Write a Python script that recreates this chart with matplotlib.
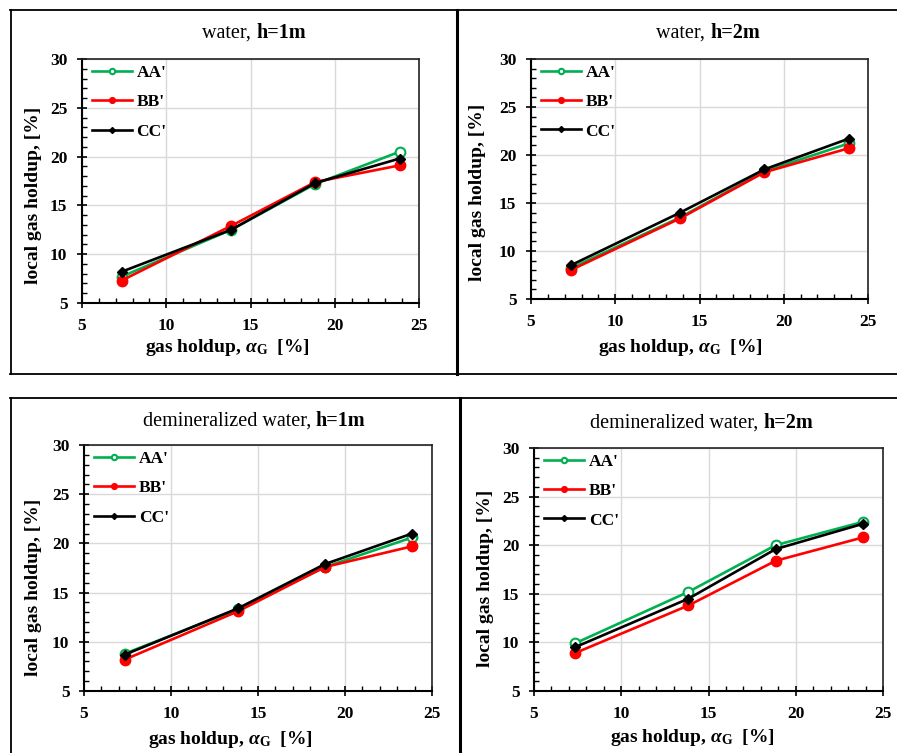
import matplotlib
matplotlib.use('Agg')
import matplotlib.pyplot as plt
from matplotlib.lines import Line2D

plt.rcParams['font.family'] = ['Liberation Serif', 'DejaVu Serif']
plt.rcParams['mathtext.fontset'] = 'custom'
plt.rcParams['mathtext.rm'] = 'Liberation Serif'
plt.rcParams['mathtext.bf'] = 'Liberation Serif:bold'
plt.rcParams['mathtext.it'] = 'Liberation Serif:bold:italic'

# data
x_gas = [7.35, 13.85, 18.85, 23.85]

water_1m_aa = [7.7, 12.5, 17.2, 20.5]
water_1m_bb = [7.3, 12.9, 17.4, 19.1]
water_1m_cc = [8.2, 12.5, 17.3, 19.8]

water_2m_aa = [8.2, 13.5, 18.3, 21.2]
water_2m_bb = [8.0, 13.4, 18.2, 20.7]
water_2m_cc = [8.5, 14.0, 18.5, 21.7]

demi_1m_aa = [8.8, 13.3, 17.6, 20.6]
demi_1m_bb = [8.2, 13.1, 17.6, 19.7]
demi_1m_cc = [8.7, 13.4, 17.9, 21.0]

demi_2m_aa = [9.9, 15.2, 20.0, 22.4]
demi_2m_bb = [8.9, 13.8, 18.4, 20.8]
demi_2m_cc = [9.5, 14.5, 19.6, 22.2]

series_names = ["AA'", "BB'", "CC'"]
titles = ['water, ', 'water, ', 'demineralized water, ', 'demineralized water, ']
heights = ['h=1m', 'h=2m', 'h=1m', 'h=2m']

W, H = 897, 753
fig = plt.figure(figsize=(W / 100, H / 100), dpi=100)
renderer = fig.canvas.get_renderer()

def fx(px):
    return px / W

def fy(py):
    return 1 - py / H

# panel frames
frame_lw = 1.3
def hline(y, x0, x1, lw=frame_lw):
    fig.add_artist(Line2D([fx(x0), fx(x1)], [fy(y), fy(y)], color='black', lw=lw, transform=fig.transFigure))

def vline(x, y0, y1, lw=frame_lw):
    fig.add_artist(Line2D([fx(x), fx(x)], [fy(y0), fy(y1)], color='black', lw=lw, transform=fig.transFigure))

hline(9.5, 10, 897)
hline(374, 10, 897)
vline(10.5, 9.5, 374)
vline(457, 9.5, 374, lw=2.2)
hline(398, 10, 897)
vline(10.5, 398, 753)
vline(459.5, 398, 753, lw=2.2)

# (left, right, top, bottom) of each axes in pixels
boxes = [(82, 419, 59, 303), (531, 868, 59, 299), (84, 432, 445, 691), (534, 883, 448, 691)]
title_pos = [(254, 33), (708, 33), (254, 421), (702, 423)]
xlab_pos = [(227, 348), (680, 347), (230, 740), (692, 738)]
ylab_pos = [(33, 195), (477, 192), (33, 587), (485, 578)]

panels = [
    (water_1m_aa, water_1m_bb, water_1m_cc),
    (water_2m_aa, water_2m_bb, water_2m_cc),
    (demi_1m_aa, demi_1m_bb, demi_1m_cc),
    (demi_2m_aa, demi_2m_bb, demi_2m_cc),
]

green = '#00B050'
red = '#FF0000'

for i, (aa, bb, cc) in enumerate(panels):
    l, r, t, b = boxes[i]
    ax = fig.add_axes([fx(l), fy(b), (r - l) / W, (b - t) / H])
    ax.plot(x_gas, aa, color=green, lw=1.9, marker='o', ms=7, mfc='white', mec=green, mew=1.5, label=series_names[0], zorder=3)
    ax.plot(x_gas, bb, color=red, lw=1.9, marker='o', ms=7.5, mfc=red, mec=red, label=series_names[1], zorder=4)
    ax.plot(x_gas, cc, color='black', lw=1.9, marker='D', ms=5.5, mfc='black', mec='black', label=series_names[2], zorder=5)

    ax.set_xlim(5, 25)
    ax.set_ylim(5, 30)
    ax.set_xticks([5, 10, 15, 20, 25])
    ax.set_yticks([5, 10, 15, 20, 25, 30])
    ax.set_xticks(range(5, 26), minor=True)
    ax.set_yticks(range(5, 31), minor=True)
    ax.grid(True, which='major', color='#D9D9D9', lw=1.0)
    ax.set_axisbelow(True)
    ax.tick_params(which='major', direction='inout', length=7, width=1.2, labelsize=12.5, pad=7)
    ax.tick_params(which='minor', direction='in', length=3.5, width=1.0)
    for lab in ax.get_xticklabels() + ax.get_yticklabels():
        lab.set_fontweight('bold')
    for s in ['left', 'bottom']:
        ax.spines[s].set_linewidth(1.5)
    for s in ['top', 'right']:
        ax.spines[s].set_linewidth(1.2)
        ax.spines[s].set_color('#222222')

    ax.legend(loc='upper left', bbox_to_anchor=(0.03, 0.975), frameon=False,
              prop={'weight': 'bold', 'size': 12.5}, handlelength=2.3, handletextpad=0.25,
              labelspacing=0.75, borderpad=0, borderaxespad=0, markerscale=0.55)

    # title: normal part then bold part, centred as a whole
    tx, ty = title_pos[i]
    t1 = fig.text(0, fy(ty), titles[i], ha='left', va='center', fontsize=14.5)
    t2 = fig.text(0, fy(ty), heights[i], ha='left', va='center', fontsize=14.5, fontweight='bold')
    w1 = t1.get_window_extent(renderer).width
    w2 = t2.get_window_extent(renderer).width
    x0 = tx - (w1 + w2) / 2
    t1.set_x(fx(x0))
    t2.set_x(fx(x0 + w1))

    xx, xy = xlab_pos[i]
    fig.text(fx(xx), fy(xy), r'gas holdup, $\alpha_\mathbf{G}$  [%]', ha='center', va='center',
             fontsize=14, fontweight='bold')
    yx, yy = ylab_pos[i]
    fig.text(fx(yx), fy(yy), 'local gas holdup, [%]', ha='center', va='center', rotation=90,
             fontsize=14, fontweight='bold')

fig.savefig('out.png', dpi=100)
